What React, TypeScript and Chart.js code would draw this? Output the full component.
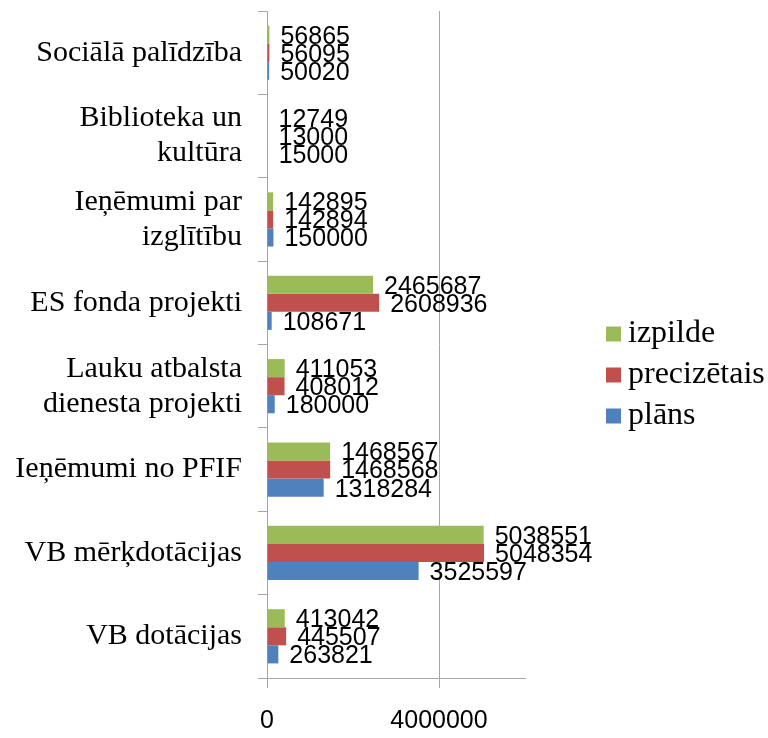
import React, { useEffect, useRef } from 'react';
import { Chart, registerables } from 'chart.js';

Chart.register(...registerables);

const categories: (string | string[])[] = [
  'Sociālā palīdzība',
  ['Biblioteka un', 'kultūra'],
  ['Ieņēmumi par', 'izglītību'],
  'ES fonda projekti',
  ['Lauku atbalsta', 'dienesta projekti'],
  'Ieņēmumi no PFIF',
  'VB mērķdotācijas',
  'VB dotācijas',
];
const izpilde = [56865, 12749, 142895, 2465687, 411053, 1468567, 5038551, 413042];
const precizetais = [56095, 13000, 142894, 2608936, 408012, 1468568, 5048354, 445507];
const plans = [50020, 15000, 150000, 108671, 180000, 1318284, 3525597, 263821];
const seriesNames = ['izpilde', 'precizētais', 'plāns'];
const seriesColors = ['#9BBB59', '#C0504D', '#4F81BD'];
const xTickValues = [0, 4000000];
const xMin = 0;
const xMax = 6000000;

const SERIF = '"Liberation Serif", "Times New Roman", serif';
const NUMFONT = '"Liberation Sans", Arial, sans-serif';
const AXIS_GRAY = '#A6A6A6';

const valueLabels = {
  id: 'valueLabels',
  afterDatasetsDraw(chart: any) {
    const ctx = chart.ctx;
    ctx.save();
    ctx.font = `25px ${NUMFONT}`;
    ctx.fillStyle = '#000';
    ctx.textAlign = 'left';
    ctx.textBaseline = 'middle';
    chart.data.datasets.forEach((ds: any, i: number) => {
      const meta = chart.getDatasetMeta(i);
      meta.data.forEach((bar: any, j: number) => {
        ctx.fillText(String(ds.data[j]), bar.x + 11, bar.y + 2);
      });
    });
    ctx.restore();
  },
};

const sideLegend = {
  id: 'sideLegend',
  afterDraw(chart: any) {
    const ctx = chart.ctx;
    const area = chart.chartArea;
    const x0 = area.right + 81;
    const yc = (area.top + area.bottom) / 2 + 30;
    const step = 41;
    ctx.save();
    ctx.font = `32px ${SERIF}`;
    ctx.textAlign = 'left';
    ctx.textBaseline = 'middle';
    chart.data.datasets.forEach((ds: any, i: number) => {
      const y = yc + (i - 1) * step;
      ctx.fillStyle = ds.backgroundColor;
      ctx.fillRect(x0, y - 7, 15, 15);
      ctx.fillStyle = '#000';
      ctx.fillText(ds.label, x0 + 22, y);
    });
    ctx.restore();
  },
};

export default function App() {
  const canvasRef = useRef<HTMLCanvasElement | null>(null);

  useEffect(() => {
    document.body.style.margin = '0';
    const canvas = canvasRef.current;
    if (!canvas) return;
    const seriesData = [izpilde, precizetais, plans];
    const chart = new Chart(canvas, {
      type: 'bar',
      data: {
        labels: categories as any,
        datasets: seriesNames.map((name, i) => ({
          label: name,
          data: seriesData[i],
          backgroundColor: seriesColors[i],
          borderWidth: 0,
          barPercentage: 1,
          categoryPercentage: 0.65,
        })),
      },
      options: {
        indexAxis: 'y',
        animation: false,
        responsive: true,
        maintainAspectRatio: false,
        layout: { padding: { top: 11, right: 243, left: 0, bottom: 0 } },
        plugins: {
          legend: { display: false },
          tooltip: { enabled: false },
        },
        scales: {
          x: {
            type: 'linear',
            min: xMin,
            max: xMax,
            afterBuildTicks(scale: any) {
              scale.ticks = xTickValues.map((v) => ({ value: v }));
            },
            afterFit(scale: any) {
              scale.height = 60;
              scale.paddingLeft = 0;
              scale.paddingRight = 0;
            },
            grid: {
              color: AXIS_GRAY,
              drawOnChartArea: true,
              drawTicks: true,
              tickLength: 10,
            },
            border: { color: AXIS_GRAY },
            ticks: {
              color: '#000',
              padding: 18,
              font: { family: NUMFONT, size: 25 },
              callback: (v: any) => String(v),
            },
          },
          y: {
            type: 'category',
            afterFit(scale: any) {
              scale.width = 267;
              scale.paddingTop = 0;
              scale.paddingBottom = 0;
            },
            grid: {
              offset: true,
              drawOnChartArea: false,
              drawTicks: true,
              tickLength: 9,
              color: AXIS_GRAY,
            },
            border: { color: AXIS_GRAY },
            ticks: {
              color: '#000',
              padding: 16,
              font: { family: SERIF, size: 30, lineHeight: 1.17 },
            },
          },
        },
      },
      plugins: [valueLabels, sideLegend],
    });
    return () => chart.destroy();
  }, []);

  return (
    <div style={{ position: 'absolute', left: 0, top: 0, width: 768, height: 738 }}>
      <canvas ref={canvasRef} />
    </div>
  );
}
